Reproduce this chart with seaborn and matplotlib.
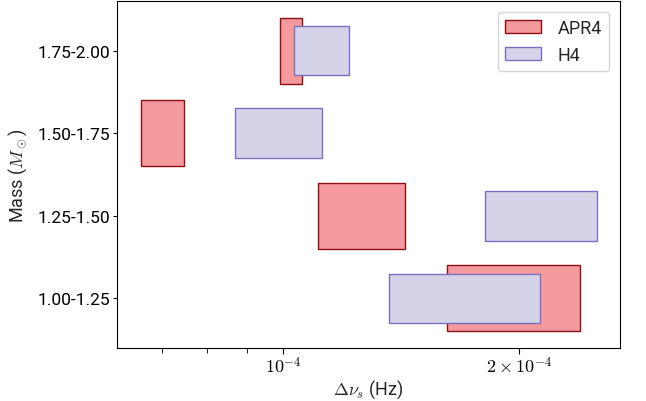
import matplotlib
matplotlib.use("Agg")
import matplotlib.pyplot as plt
import matplotlib.ticker as mticker
from matplotlib.patches import Patch
import seaborn as sns

# ── Data ─────────────────────────────────────────────────────────────────────
mass_bins = ["1.00-1.25", "1.25-1.50", "1.50-1.75", "1.75-2.00"]

# delta nu_s ranges (Hz), one per mass bin
apr4_lo = [1.617e-4, 1.107e-4, 0.658e-4, 0.992e-4]
apr4_hi = [2.392e-4, 1.430e-4, 0.748e-4, 1.058e-4]
h4_lo = [1.366e-4, 1.808e-4, 0.868e-4, 1.034e-4]
h4_hi = [2.123e-4, 2.515e-4, 1.121e-4, 1.215e-4]

sns.set_style("ticks")
plt.rcParams.update({
    "font.family": ["Roboto", "DejaVu Sans"],
    "mathtext.fontset": "cm",
    "axes.edgecolor": "black",
    "xtick.color": "black",
    "ytick.color": "black",
})

fig, ax = plt.subplots(figsize=(6.46, 4.02), dpi=100)
fig.subplots_adjust(left=0.181, right=0.960, top=0.995, bottom=0.132)

ypos = list(range(len(mass_bins)))
apr4_w = [h - l for l, h in zip(apr4_lo, apr4_hi)]
h4_w = [h - l for l, h in zip(h4_lo, h4_hi)]

ax.barh(ypos, apr4_w, left=apr4_lo, height=0.8,
        color="#f4999c", edgecolor="#8b0f14", linewidth=1.0, zorder=2)
ax.barh(ypos, h4_w, left=h4_lo, height=0.6,
        color="#d5d3e8", edgecolor="#7b6fc2", linewidth=1.0, zorder=3)

ax.set_xscale("log")
ax.set_xlim(6.14e-5, 2.69e-4)
ax.set_ylim(-0.6, 3.6)

ax.xaxis.set_major_locator(mticker.FixedLocator([1e-4, 2e-4]))
ax.xaxis.set_major_formatter(mticker.FixedFormatter([r"$10^{-4}$", r"$2\times10^{-4}$"]))
ax.xaxis.set_minor_locator(mticker.FixedLocator([7e-5, 8e-5, 9e-5]))
ax.xaxis.set_minor_formatter(mticker.NullFormatter())
ax.tick_params(axis="x", which="major", labelsize=13, length=4, pad=1.5)
ax.tick_params(axis="x", which="minor", length=3.5)

ax.set_yticks(ypos)
ax.set_yticklabels(mass_bins)
ax.tick_params(axis="y", labelsize=12.5, length=3, pad=2)

ax.set_xlabel(r"$\Delta\nu_s$ (Hz)", fontsize=13, labelpad=1)
ax.set_ylabel(r"Mass ($M_\odot$)", fontsize=13, labelpad=6)

handles = [
    Patch(facecolor="#f4999c", edgecolor="#8b0f14", label="APR4"),
    Patch(facecolor="#d5d3e8", edgecolor="#7b6fc2", label="H4"),
]
ax.legend(handles=handles, loc="upper right", fontsize=13, frameon=True,
          borderaxespad=0.6, handletextpad=0.9)

plt.savefig("out.png", dpi=100)
